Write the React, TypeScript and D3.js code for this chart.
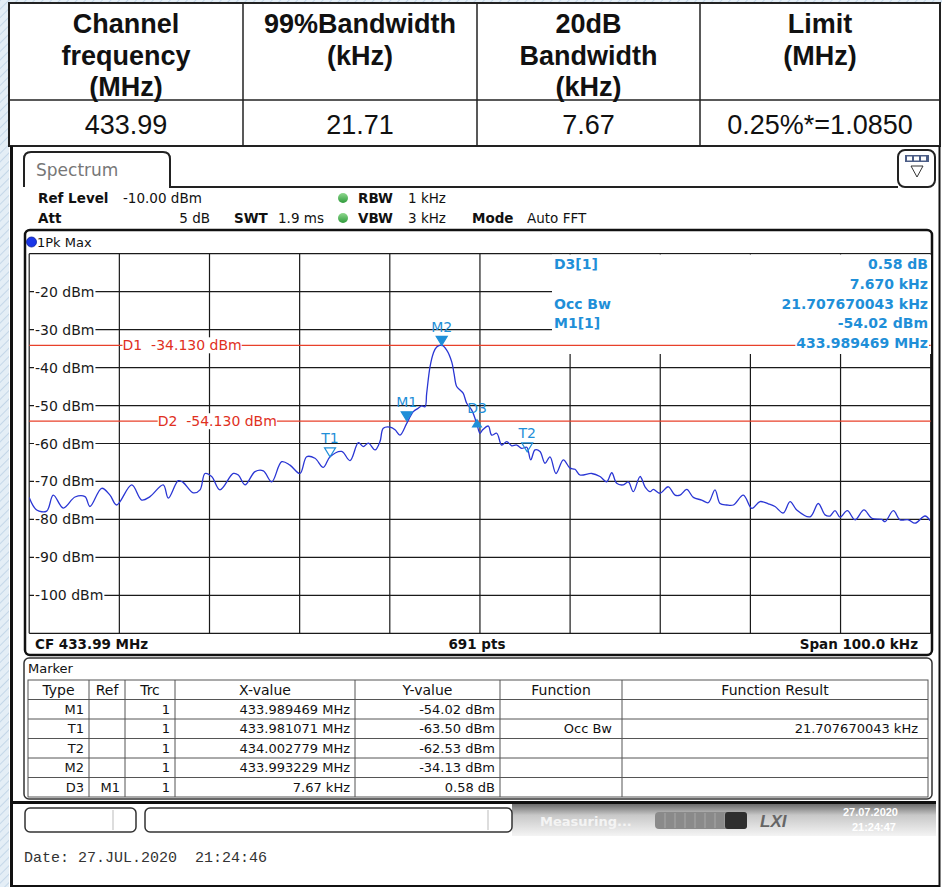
import React, { useLayoutEffect, useRef, useState } from 'react';
import * as d3 from 'd3';

// summary table above the screenshot
const headerCols = [
  ['Channel', 'frequency', '(MHz)'],
  ['99%Bandwidth', '(kHz)'],
  ['20dB', 'Bandwidth', '(kHz)'],
  ['Limit', '(MHz)'],
];
const resultRow = ['433.99', '21.71', '7.67', '0.25%*=1.0850'];

// analyzer axes
const levelTicks = [-20, -30, -40, -50, -60, -70, -80, -90, -100];
const levelDomain = [-110, -10];
const spanKhz = [-50, 50];
const gridDivisions = 10;

const displayLines = [
  { name: 'D1', level: -34.13, label: 'D1  -34.130 dBm', labelAt: -39.65 },
  { name: 'D2', level: -54.13, label: 'D2  -54.130 dBm', labelAt: -35.75 },
];

// trace: [offset from CF in kHz, level in dBm]
const tracePoints: [number, number][] = [
  [-50.0, -74.2], [-49.17, -77.5], [-48.06, -77.8], [-47.33, -73.6], [-46.22, -77.0],
  [-44.92, -74.1], [-43.81, -74.0], [-43.26, -76.6], [-41.96, -71.8], [-41.04, -73.6],
  [-40.3, -76.2], [-38.63, -70.9], [-37.52, -74.9], [-36.6, -74.0], [-35.13, -70.9],
  [-34.57, -74.4], [-33.46, -69.8], [-32.91, -70.3], [-31.8, -73.0], [-31.05, -72.2],
  [-30.5, -67.9], [-29.76, -68.7], [-28.84, -72.2], [-27.36, -67.9], [-26.8, -68.3],
  [-26.06, -70.9], [-24.95, -67.4], [-24.03, -67.2], [-23.1, -70.1], [-21.99, -64.8],
  [-21.07, -65.7], [-19.96, -67.9], [-19.22, -63.5], [-18.3, -63.9], [-17.38, -66.3],
  [-16.63, -63.5], [-15.34, -62.1], [-14.41, -64.5], [-13.49, -59.8], [-12.94, -60.8],
  [-12.38, -59.9], [-11.64, -61.7], [-11.09, -59.5], [-10.72, -56.0], [-9.98, -55.7],
  [-9.42, -56.4], [-8.87, -57.8], [-8.12, -54.7], [-7.39, -51.6], [-6.84, -50.7],
  [-6.46, -50.1], [-6.09, -50.3], [-5.91, -46.8], [-5.54, -39.8], [-5.17, -36.2],
  [-4.8, -34.6], [-4.24, -34.1], [-3.69, -35.4], [-3.13, -38.5], [-2.88, -41.5],
  [-2.58, -45.0], [-2.21, -45.9], [-1.85, -46.8], [-1.47, -49.4], [-0.91, -51.2],
  [-0.36, -54.7], [0.0, -57.3], [0.3, -56.4], [0.93, -55.4], [1.3, -57.8],
  [1.86, -57.3], [2.41, -60.4], [2.97, -59.5], [3.52, -60.6], [4.08, -60.4],
  [4.63, -61.3], [5.19, -61.0], [5.63, -64.3], [6.11, -61.7], [6.66, -62.1],
  [7.22, -65.2], [7.77, -63.5], [8.44, -67.9], [9.25, -64.3], [9.99, -66.5],
  [10.54, -66.8], [11.1, -68.3], [12.4, -67.9], [13.32, -68.7], [14.06, -70.1],
  [14.62, -67.7], [15.17, -70.5], [15.9, -70.9], [16.46, -70.1], [17.01, -72.7],
  [17.76, -68.7], [18.31, -71.4], [18.87, -72.7], [19.23, -72.1], [19.98, -73.1],
  [20.89, -71.4], [21.64, -73.6], [22.19, -73.6], [22.94, -72.1], [23.67, -74.2],
  [24.6, -74.9], [25.33, -75.6], [26.07, -72.2], [26.63, -75.8], [27.37, -76.2],
  [28.11, -76.2], [29.22, -73.6], [30.15, -77.1], [31.07, -75.3], [31.99, -75.9],
  [32.73, -76.6], [33.65, -78.3], [34.4, -75.3], [35.14, -77.5], [36.62, -79.3],
  [37.53, -75.8], [38.28, -78.8], [38.83, -79.1], [39.39, -77.7], [39.94, -79.4],
  [40.75, -77.7], [41.61, -80.1], [42.6, -77.5], [43.46, -79.7], [44.57, -80.0],
  [44.94, -80.6], [45.86, -77.7], [46.6, -80.1], [47.52, -80.1], [48.26, -81.0],
  [49.37, -79.1], [49.92, -80.3],
];

const chartMarkers = [
  { name: 'T1', khz: -16.63, dbm: -63.5, kind: 'temp' },
  { name: 'M1', khz: -8.12, dbm: -54.02, kind: 'normal' },
  { name: 'M2', khz: -4.24, dbm: -34.13, kind: 'normal' },
  { name: 'D3', khz: -0.33, dbm: -53.44, kind: 'delta' },
  { name: 'T2', khz: 5.24, dbm: -62.2, kind: 'temp' },
];

const markerInfo = [
  ['D3[1]', '0.58 dB'],
  ['', '7.670 kHz'],
  ['Occ Bw', '21.707670043 kHz'],
  ['M1[1]', '-54.02 dBm'],
  ['', '433.989469 MHz'],
];

const markerTableCols = ['Type', 'Ref', 'Trc', 'X-value', 'Y-value', 'Function', 'Function Result'];
const markerRows = [
  ['M1', '', '1', '433.989469 MHz', '-54.02 dBm', '', ''],
  ['T1', '', '1', '433.981071 MHz', '-63.50 dBm', 'Occ Bw', '21.707670043 kHz'],
  ['T2', '', '1', '434.002779 MHz', '-62.53 dBm', '', ''],
  ['M2', '', '1', '433.993229 MHz', '-34.13 dBm', '', ''],
  ['D3', 'M1', '1', '7.67 kHz', '0.58 dB', '', ''],
];

const INST = "'DejaVu Sans', Verdana, sans-serif";
const ARIAL = "'Liberation Sans', Arial, sans-serif";
const MARK_BLUE = '#1f8fd8';
const RED = '#e8402a';

// text with a white box behind it, sized from the rendered text
function BgText({ x, y, anchor = 'start', pad = 1, children, ...rest }: any) {
  const ref = useRef<SVGTextElement>(null);
  const [box, setBox] = useState<any>(null);
  useLayoutEffect(() => {
    if (ref.current) {
      const b = ref.current.getBBox();
      setBox({ x: b.x, y: b.y, w: b.width, h: b.height });
    }
  }, [children, x, y]);
  return (
    <g>
      {box && <rect x={box.x - pad} y={box.y} width={box.w + pad * 2} height={box.h} fill="#fff" />}
      <text ref={ref} x={x} y={y} textAnchor={anchor} dominantBaseline="central" style={{ whiteSpace: 'pre' }} {...rest}>
        {children}
      </text>
    </g>
  );
}

export default function App() {
  const W = 942;
  const H = 887;

  // plot frame of the analyzer
  const plot = { left: 29.2, right: 930.7, top: 253.7, bottom: 633.3 };
  const x = d3.scaleLinear().domain(spanKhz).range([plot.left, plot.right]);
  const y = d3.scaleLinear().domain(levelDomain).range([plot.bottom, plot.top]);
  const xGrid = d3.range(gridDivisions + 1).map(i => spanKhz[0] + (i * (spanKhz[1] - spanKhz[0])) / gridDivisions);
  const yGrid = d3.range(levelDomain[0], levelDomain[1] + 1, 10);

  const line = d3.line<[number, number]>()
    .x(d => x(d[0]))
    .y(d => y(d[1]))
    .curve(d3.curveCatmullRom.alpha(0.5));

  // info box in the upper right of the diagram
  const info = { left: 552, right: 931, top: 254.5, bottom: 354 };

  // summary table geometry
  const tCols = [9, 243, 477, 700, 940];
  const tTop = 3, tMid = 100, tBot = 146;
  const headLineY = [24, 56, 87];

  // marker table geometry
  const mCols = [28, 89, 125, 175, 355, 500, 622, 928];
  const mTop = 680, mRowH = 19.5;

  const cellX = (c: number) => {
    if (c === 5) return mCols[6] - 10;
    if (c === 6) return mCols[7] - 10;
    return mCols[c + 1] - 5;
  };

  return (
    <svg width={W} height={H} style={{ position: 'absolute', left: 0, top: 0, background: '#fff' }}>
      <defs>
        <pattern id="hatch" width="6" height="6" patternUnits="userSpaceOnUse" patternTransform="rotate(45)">
          <rect width="6" height="6" fill="#e4eef6" />
          <line x1="0" y1="0" x2="0" y2="6" stroke="#b9d0e4" strokeWidth="1.5" />
        </pattern>
        <linearGradient id="status" x1="0" y1="0" x2="0" y2="1">
          <stop offset="0" stopColor="#6c6c6c" />
          <stop offset="0.35" stopColor="#c8c8c8" />
          <stop offset="1" stopColor="#f4f4f4" />
        </linearGradient>
        <linearGradient id="greenDot" x1="0" y1="0" x2="0" y2="1">
          <stop offset="0" stopColor="#8fd88f" />
          <stop offset="1" stopColor="#2e9a3a" />
        </linearGradient>
        <clipPath id="plotClip">
          <rect x={plot.left} y={plot.top} width={plot.right - plot.left} height={plot.bottom - plot.top} />
        </clipPath>
      </defs>

      {/* watermark strip */}
      <rect x={0} y={0} width={9} height={H} fill="url(#hatch)" />
      <rect x={0} y={0} width={W} height={3} fill="url(#hatch)" />

      {/* summary table */}
      <g fontFamily={ARIAL} fill="#111">
        <rect x={tCols[0]} y={tTop} width={tCols[4] - tCols[0]} height={tBot - tTop} fill="#fff" stroke="#222" strokeWidth={2} />
        <line x1={tCols[0]} x2={tCols[4]} y1={tMid} y2={tMid} stroke="#222" strokeWidth={1.5} />
        {tCols.slice(1, 4).map(c => (
          <line key={c} x1={c} x2={c} y1={tTop} y2={tBot} stroke="#222" strokeWidth={1.5} />
        ))}
        {headerCols.map((lines, i) => lines.map((t, j) => (
          <text key={`${i}-${j}`} x={(tCols[i] + tCols[i + 1]) / 2} y={headLineY[j]} textAnchor="middle"
            dominantBaseline="central" fontSize={27} fontWeight="bold">{t}</text>
        )))}
        {resultRow.map((t, i) => (
          <text key={t} x={(tCols[i] + tCols[i + 1]) / 2} y={125} textAnchor="middle"
            dominantBaseline="central" fontSize={27}>{t}</text>
        ))}
      </g>

      {/* screenshot frame */}
      <line x1={11.5} x2={11.5} y1={146} y2={H} stroke="#111" strokeWidth={3} />
      <line x1={939.5} x2={939.5} y1={146} y2={H} stroke="#111" strokeWidth={2} />
      <line x1={11} x2={940} y1={886} y2={886} stroke="#111" strokeWidth={2} />

      {/* Spectrum tab */}
      <path d="M24,187 L24,159 Q24,152 31,152 L163,152 Q170,152 170,159 L170,187 L898,187"
        fill="none" stroke="#222" strokeWidth={2} />
      <text x={36} y={170} fontFamily={INST} fontSize={17} fill="#777" dominantBaseline="central">Spectrum</text>
      <rect x={898} y={150} width={37} height={37} rx={7} fill="#fff" stroke="#222" strokeWidth={2} />
      <rect x={905} y={155} width={24} height={7} fill="#4b5d86" />
      {[0, 1, 2].map(i => (
        <rect key={i} x={907 + i * 7} y={156.5} width={5} height={4} fill="#fff" />
      ))}
      <path d="M911,166 L923,166 L917,177 Z" fill="#fff" stroke="#333" strokeWidth={1} />

      {/* settings */}
      <g fontFamily={INST} fontSize={13.5} fill="#111">
        <text x={38} y={198} dominantBaseline="central" fontWeight="bold">Ref Level</text>
        <text x={123} y={198} dominantBaseline="central">-10.00 dBm</text>
        <text x={38} y={218} dominantBaseline="central" fontWeight="bold">Att</text>
        <text x={210} y={218} dominantBaseline="central" textAnchor="end">5 dB</text>
        <text x={234} y={218} dominantBaseline="central" fontWeight="bold">SWT</text>
        <text x={278} y={218} dominantBaseline="central">1.9 ms</text>
        <circle cx={343} cy={198} r={5} fill="url(#greenDot)" />
        <circle cx={343} cy={218} r={5} fill="url(#greenDot)" />
        <text x={358} y={198} dominantBaseline="central" fontWeight="bold">RBW</text>
        <text x={408} y={198} dominantBaseline="central">1 kHz</text>
        <text x={358} y={218} dominantBaseline="central" fontWeight="bold">VBW</text>
        <text x={408} y={218} dominantBaseline="central">3 kHz</text>
        <text x={472} y={218} dominantBaseline="central" fontWeight="bold">Mode</text>
        <text x={527} y={218} dominantBaseline="central">Auto FFT</text>
      </g>

      {/* trace window */}
      <rect x={25} y={230} width={907} height={425} rx={5} fill="#fff" stroke="#111" strokeWidth={2.5} />
      <circle cx={31.5} cy={242} r={5} fill="#1a36e8" stroke="#0b1f9a" strokeWidth={0.8} />
      <text x={37} y={242} fontFamily={INST} fontSize={13} fill="#111" dominantBaseline="central">1Pk Max</text>

      {/* grid */}
      <g stroke="#1a1a1a" strokeWidth={1.2}>
        {yGrid.map(v => (
          <line key={`h${v}`} x1={plot.left} x2={plot.right} y1={y(v)} y2={y(v)} />
        ))}
        {xGrid.map(v => (
          <line key={`v${v}`} x1={x(v)} x2={x(v)} y1={plot.top} y2={plot.bottom} />
        ))}
      </g>

      {/* y tick labels */}
      <g fontFamily={INST} fontSize={14} fill="#1a1a1a">
        {levelTicks.map(v => (
          <BgText key={v} x={35} y={y(v)} pad={1}>{`${v} dBm`}</BgText>
        ))}
      </g>

      {/* marker info area */}
      <rect x={info.left} y={info.top} width={info.right - info.left} height={info.bottom - info.top} fill="#fff" />

      {/* display lines */}
      {displayLines.map(d => (
        <g key={d.name}>
          <line x1={plot.left} x2={plot.right} y1={y(d.level)} y2={y(d.level)} stroke={RED} strokeWidth={1.3} />
          <BgText x={x(d.labelAt)} y={y(d.level)} fontFamily={INST} fontSize={14} fill="#e0301e" pad={0}>{d.label}</BgText>
        </g>
      ))}

      {/* marker readout */}
      <g fontFamily={INST} fontSize={14} fontWeight="bold" fill={MARK_BLUE}>
        {markerInfo.map((r, i) => (
          <g key={i}>
            {r[0] && <text x={554} y={264 + i * 19.8} dominantBaseline="central">{r[0]}</text>}
            <BgText x={928} y={264 + i * 19.8} anchor="end" pad={1}>{r[1]}</BgText>
          </g>
        ))}
      </g>

      {/* trace */}
      <path d={line(tracePoints) ?? ''} fill="none" stroke="#2a36d4" strokeWidth={1.3} clipPath="url(#plotClip)" />

      {/* markers */}
      <g fontFamily={INST} fontSize={14} fill={MARK_BLUE}>
        {chartMarkers.map(m => {
          const mx = x(m.khz);
          const my = y(m.dbm);
          if (m.kind === 'delta') {
            return (
              <g key={m.name}>
                <path d={`M${mx},${my} L${mx + 5.5},${my + 9} L${mx - 5.5},${my + 9} Z`} fill={MARK_BLUE} />
                <text x={mx} y={my - 11} textAnchor="middle" dominantBaseline="central">{m.name}</text>
              </g>
            );
          }
          return (
            <g key={m.name}>
              <path d={`M${mx - 5.5},${my - 9} L${mx + 5.5},${my - 9} L${mx},${my} Z`}
                fill={m.kind === 'temp' ? 'none' : MARK_BLUE} stroke={MARK_BLUE} strokeWidth={1.2} />
              <text x={mx} y={my - 18.5} textAnchor="middle" dominantBaseline="central">{m.name}</text>
            </g>
          );
        })}
      </g>

      {/* footer of the trace window */}
      <g fontFamily={INST} fontSize={13.5} fontWeight="bold" fill="#111">
        <text x={35} y={644} dominantBaseline="central">CF 433.99 MHz</text>
        <text x={477} y={644} dominantBaseline="central" textAnchor="middle">691 pts</text>
        <text x={918} y={644} dominantBaseline="central" textAnchor="end">Span 100.0 kHz</text>
      </g>

      {/* marker window */}
      <rect x={24} y={658} width={908} height={141} rx={5} fill="#fff" stroke="#333" strokeWidth={1.5} />
      <text x={28} y={668} fontFamily={INST} fontSize={13} fill="#111" dominantBaseline="central">Marker</text>
      <g stroke="#555" strokeWidth={1}>
        <rect x={mCols[0]} y={mTop} width={mCols[7] - mCols[0]} height={mRowH * 6} fill="none" />
        {d3.range(1, 6).map(i => (
          <line key={i} x1={mCols[0]} x2={mCols[7]} y1={mTop + i * mRowH} y2={mTop + i * mRowH} />
        ))}
        {mCols.slice(1, 7).map(c => (
          <line key={c} x1={c} x2={c} y1={mTop} y2={mTop + mRowH * 6} />
        ))}
      </g>
      <g fontFamily={INST} fontSize={13} fill="#111">
        {markerTableCols.map((c, i) => (
          <text key={c} x={(mCols[i] + mCols[i + 1]) / 2} y={mTop + mRowH / 2} textAnchor="middle"
            dominantBaseline="central" fontSize={14}>{c}</text>
        ))}
        {markerRows.map((r, ri) => r.map((v, ci) => v ? (
          <text key={`${ri}-${ci}`} x={cellX(ci)} y={mTop + (ri + 1.5) * mRowH} textAnchor="end"
            dominantBaseline="central">{v}</text>
        ) : null))}
      </g>

      {/* status bar */}
      <line x1={12} x2={936} y1={802.5} y2={802.5} stroke="#111" strokeWidth={3} />
      <rect x={512} y={804} width={424} height={32} fill="url(#status)" />
      <rect x={25} y={808} width={111} height={24} rx={5} fill="#fff" stroke="#333" strokeWidth={1.5} />
      <line x1={113} x2={113} y1={810} y2={830} stroke="#bbb" />
      <rect x={145} y={808} width={367} height={24} rx={5} fill="#fff" stroke="#333" strokeWidth={1.5} />
      <line x1={488} x2={488} y1={810} y2={830} stroke="#bbb" />
      <text x={540} y={821} fontFamily={INST} fontSize={13} fontWeight="bold" fill="#f4f4f4" dominantBaseline="central">Measuring...</text>
      <rect x={655} y={812} width={92} height={17} rx={4} fill="#8a8a8a" />
      {d3.range(1, 9).map(i => (
        <line key={i} x1={655 + i * 10} x2={655 + i * 10} y1={813} y2={828} stroke="#a8a8a8" />
      ))}
      <rect x={725} y={812} width={22} height={17} rx={3} fill="#2f2f2f" />
      <text x={760} y={821} fontFamily={ARIAL} fontSize={17} fontStyle="italic" fontWeight="bold" fill="#666" dominantBaseline="central">LXI</text>
      <g fontFamily={ARIAL} fontSize={11} fontWeight="bold" fill="#fff">
        <text x={898} y={812} textAnchor="end" dominantBaseline="central">27.07.2020</text>
        <text x={896} y={827} textAnchor="end" dominantBaseline="central">21:24:47</text>
      </g>

      <text x={24} y={858} fontFamily="'Liberation Mono', 'DejaVu Sans Mono', monospace" fontSize={15}
        fill="#333" dominantBaseline="central" style={{ whiteSpace: 'pre' }}>Date: 27.JUL.2020  21:24:46</text>
    </svg>
  );
}
